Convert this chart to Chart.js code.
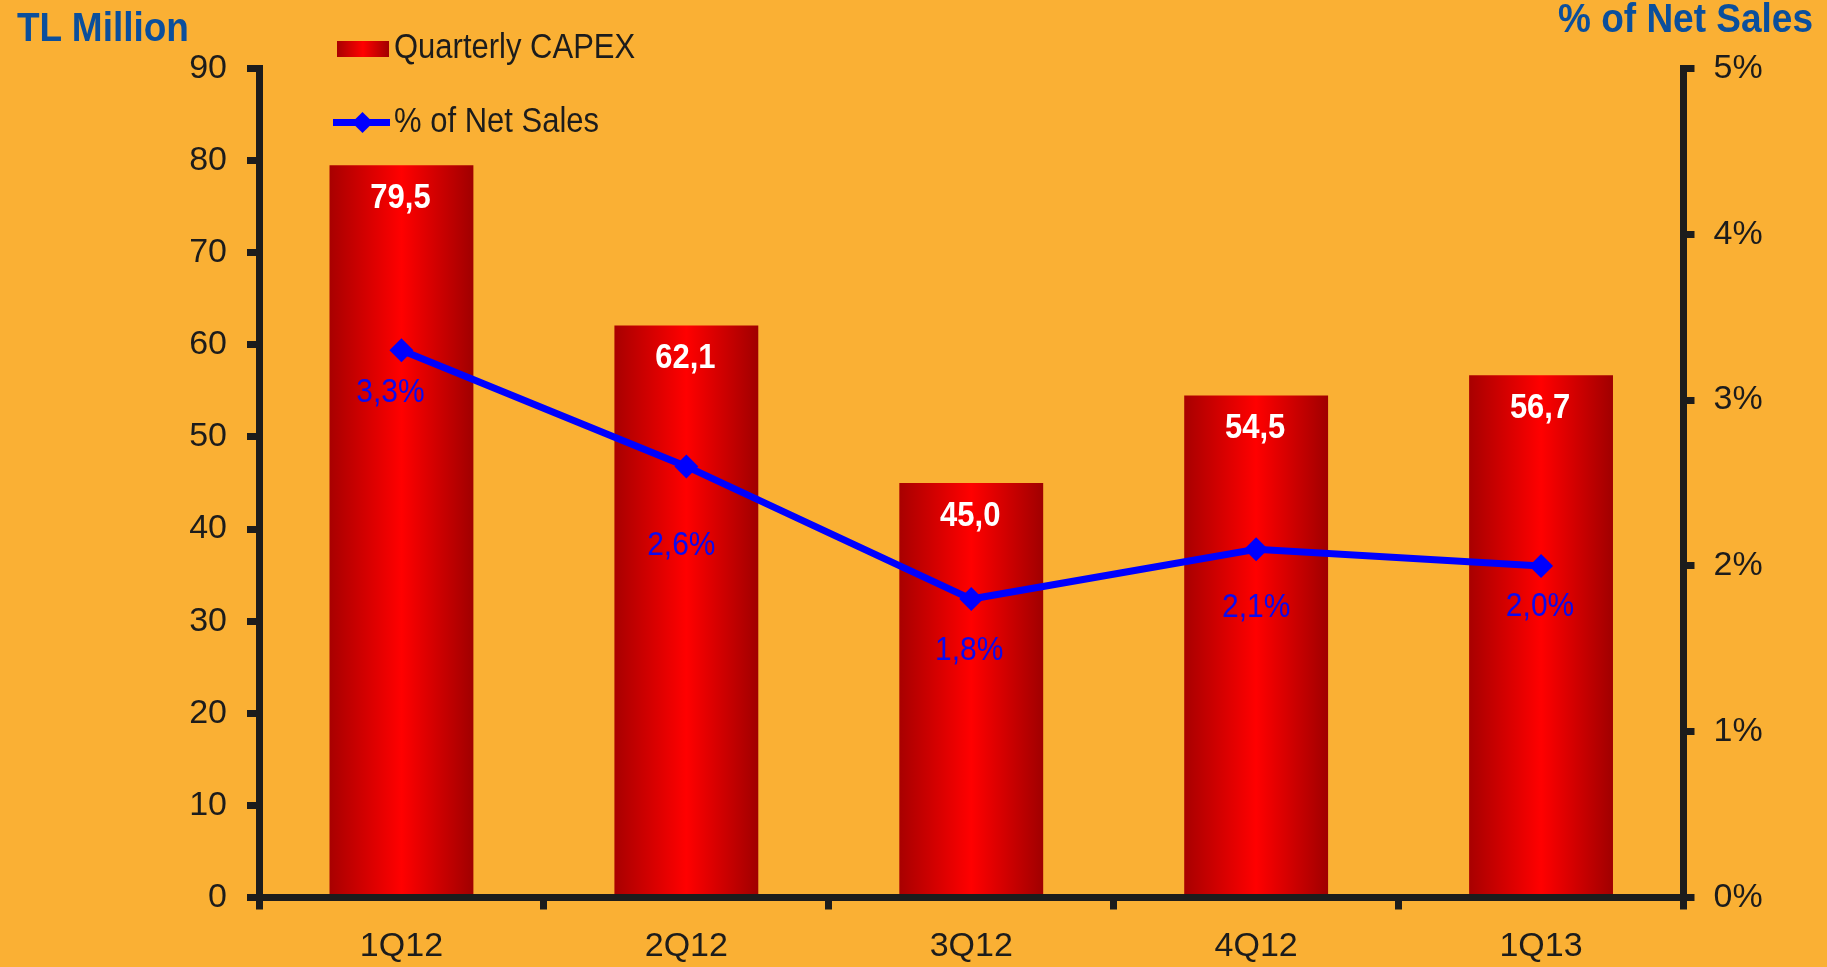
<!DOCTYPE html>
<html>
<head>
<meta charset="utf-8">
<title>CAPEX trimestral</title>
<script src="https://cdn.jsdelivr.net/npm/chart.js@4"></script>
<style>
  html, body { margin: 0; padding: 0; background: #FAB034; }
  body { width: 1827px; height: 967px; position: relative; overflow: hidden;
         font-family: "Liberation Sans", Arial, sans-serif; }
  #grafico { position: absolute; left: 0; top: 0; width: 1827px; height: 967px; }
  .titulo { position: absolute; font-weight: bold; font-size: 37px; line-height: 37px;
            color: #0B4F9C; white-space: nowrap; transform: scaleY(1.1); transform-origin: 0 100%; }
  .legenda { position: absolute; font-size: 31px; line-height: 31px; color: #1c1c1c; white-space: nowrap;
             transform: scaleY(1.12); transform-origin: 0 100%; }
  .amostra-barra { position: absolute; left: 337px; top: 41px; width: 52px; height: 16px;
                   background: linear-gradient(to right, #a80000, #ff0000, #a00000); }
  .amostra-linha { position: absolute; left: 333px; top: 119px; width: 57px; height: 7px; background: #0000ff; }
  .amostra-ponto { position: absolute; left: 355px; top: 115px; width: 15px; height: 15px;
                   background: #0000ff; transform: rotate(45deg); }
</style>
</head>
<body>
<canvas id="grafico" width="1827" height="967"></canvas>
<div class="titulo" style="left:17px; top:11px;">TL Million</div>
<div class="titulo" style="right:14px; top:2px;">% of Net Sales</div>
<div class="amostra-barra"></div>
<div class="legenda" style="left:394px; top:33px;">Quarterly CAPEX</div>
<div class="amostra-linha"></div>
<div class="amostra-ponto"></div>
<div class="legenda" style="left:394px; top:107px;">% of Net Sales</div>

<script>
// Dados do gráfico
const trimestres = ['1Q12', '2Q12', '3Q12', '4Q12', '1Q13'];
const capex = [79.5, 62.1, 45.0, 54.5, 56.7];
const percVendas = [3.3, 2.6, 1.8, 2.1, 2.0];

// Deslocamento dos rótulos de % em relação ao ponto
const desvioRotuloX = [-11, -5, -2, 0, -1];
const desvioRotuloY = [42, 79, 52, 58, 41];

const fonte = '"Liberation Sans", Arial, sans-serif';
const corEixo = '#1c1c1c';

function formata(v) {
    return v.toFixed(1).replace('.', ',');
}

// Gradiente horizontal de cada barra (escuro nas bordas, vermelho vivo no meio)
function gradienteBarra(ctx) {
    const chart = ctx.chart;
    const xs = chart.scales.x;
    if (ctx.dataIndex === undefined || !xs || !chart.chartArea) return '#e00000';
    const meio = xs.getPixelForValue(ctx.dataIndex);
    const larg = (chart.chartArea.right - chart.chartArea.left) / trimestres.length * 0.505;
    const g = chart.ctx.createLinearGradient(meio - larg / 2, 0, meio + larg / 2, 0);
    g.addColorStop(0, '#a80000');
    g.addColorStop(0.5, '#ff0000');
    g.addColorStop(1, '#a00000');
    return g;
}

// Texto levemente esticado na vertical, como no original
function textoEsticado(c, texto, x, y) {
    c.save();
    c.translate(x, y);
    c.scale(1, 1.12);
    c.fillText(texto, 0, 0);
    c.restore();
}

// Rótulos dos valores sobre as barras e a linha
const rotulos = {
    id: 'rotulos',
    afterDatasetsDraw(chart) {
        const c = chart.ctx;
        c.save();
        c.textAlign = 'center';
        c.textBaseline = 'middle';
        c.font = 'bold 31px ' + fonte;
        c.fillStyle = '#ffffff';
        chart.getDatasetMeta(0).data.forEach((barra, i) => {
            textoEsticado(c, formata(capex[i]), barra.x - 1, barra.y + 33);
        });
        c.font = '30px ' + fonte;
        c.fillStyle = '#0a0af0';
        chart.getDatasetMeta(1).data.forEach((ponto, i) => {
            textoEsticado(c, formata(percVendas[i]) + '%', ponto.x + desvioRotuloX[i], ponto.y + desvioRotuloY[i]);
        });
        c.restore();
    }
};

const ctx = document.getElementById('grafico').getContext('2d');
const grafico = new Chart(ctx, {
    type: 'bar',
    data: {
        labels: trimestres,
        datasets: [{
            type: 'bar',
            label: 'Quarterly CAPEX',
            data: capex,
            backgroundColor: gradienteBarra,
            borderWidth: 0,
            categoryPercentage: 1,
            barPercentage: 0.505,
            yAxisID: 'y',
            order: 1
        }, {
            type: 'line',
            label: '% of Net Sales',
            data: percVendas,
            borderColor: '#0000ff',
            backgroundColor: '#0000ff',
            borderWidth: 7,
            tension: 0,
            pointStyle: 'rectRot',
            pointRadius: 12,
            pointBorderWidth: 0,
            pointBackgroundColor: '#0000ff',
            yAxisID: 'y1',
            order: 0
        }]
    },
    options: {
        responsive: false,
        animation: false,
        events: [],
        layout: { padding: { top: 68.5, left: 0, right: 0, bottom: 0 } },
        plugins: {
            legend: { display: false },
            tooltip: { enabled: false }
        },
        scales: {
            x: {
                offset: true,
                ticks: { color: corEixo, font: { family: fonte, size: 34 }, padding: 17 },
                border: { width: 7, color: corEixo },
                grid: { drawOnChartArea: false, offset: true, tickLength: 12, lineWidth: 7, color: corEixo },
                afterFit(s) { s.height = 69.5; }
            },
            y: {
                position: 'left',
                min: 0,
                max: 90,
                ticks: { stepSize: 10, color: corEixo, font: { family: fonte, size: 34 }, padding: 20 },
                border: { width: 7, color: corEixo },
                grid: { drawOnChartArea: false, tickLength: 12, lineWidth: 7, color: corEixo },
                afterFit(s) { s.width = 259; }
            },
            y1: {
                position: 'right',
                min: 0,
                max: 5,
                ticks: {
                    stepSize: 1,
                    color: corEixo,
                    font: { family: fonte, size: 34 },
                    padding: 19,
                    callback: (v) => v + '%'
                },
                border: { width: 7, color: corEixo },
                grid: { drawOnChartArea: false, tickLength: 11, lineWidth: 7, color: corEixo },
                afterFit(s) { s.width = 143.5; }
            }
        }
    },
    plugins: [rotulos]
});
</script>
</body>
</html>
